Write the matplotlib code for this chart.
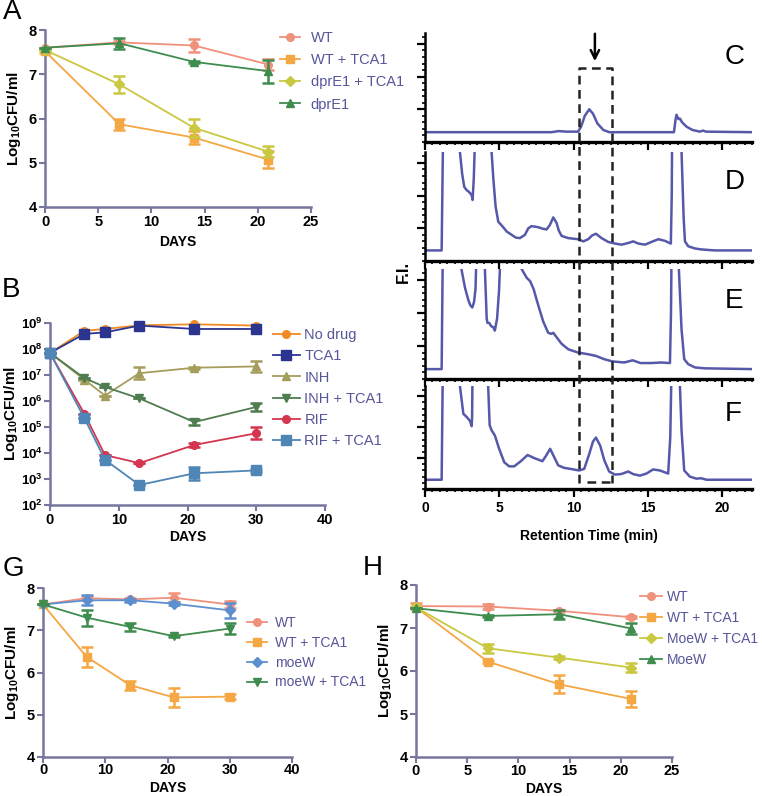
import numpy as np
import matplotlib.pyplot as plt
from matplotlib.ticker import FixedLocator, MultipleLocator, FuncFormatter

plt.rcParams['font.family'] = ['Liberation Sans', 'DejaVu Sans']
plt.rcParams['font.weight'] = 'bold'
plt.rcParams['axes.labelweight'] = 'bold'
plt.rcParams['mathtext.fontset'] = 'custom'
plt.rcParams['mathtext.rm'] = 'Liberation Sans'
plt.rcParams['mathtext.bf'] = 'Liberation Sans:bold'

# ---------------- data ----------------
# Panel A (log10 CFU/ml)
days_a = [0, 7, 14, 21]
a_labels = ["WT", "WT + TCA1", "dprE1 + TCA1", "dprE1"]
a_wt = [7.60, 7.72, 7.65, 7.22]
a_wt_err = [0.0, 0.04, 0.15, 0.12]
a_wt_tca = [7.52, 5.87, 5.57, 5.07]
a_wt_tca_err = [0.04, 0.12, 0.15, 0.19]
a_dpr_tca = [7.55, 6.77, 5.79, 5.25]
a_dpr_tca_err = [0.0, 0.19, 0.20, 0.12]
a_dpr = [7.60, 7.70, 7.28, 7.07]
a_dpr_err = [0.0, 0.13, 0.03, 0.26]

# Panel B (log10 CFU/ml)
days_b = [0, 5, 8, 13, 21, 30]
b_labels = ["No drug", "TCA1", "INH", "INH + TCA1", "RIF", "RIF + TCA1"]
b_nodrug = [7.85, 8.70, 8.77, 8.91, 8.95, 8.90]
b_tca = [7.85, 8.58, 8.64, 8.90, 8.77, 8.77]
b_inh = [7.85, 6.82, 6.21, 7.07, 7.28, 7.33]
b_inh_err = [0, 0, 0, 0.24, 0.03, 0.20]
b_inh_tca = [7.85, 6.88, 6.54, 6.10, 5.19, 5.77]
b_inh_tca_err = [0, 0, 0, 0, 0.10, 0.15]
b_rif = [7.85, 5.51, 3.92, 3.61, 4.31, 4.76]
b_rif_err = [0, 0, 0, 0, 0.09, 0.24]
b_rif_tca = [7.85, 5.34, 3.74, 2.77, 3.22, 3.33]
b_rif_tca_err = [0, 0, 0, 0, 0.24, 0.05]

# Panel G
days_g = [0, 7, 14, 21, 30]
g_labels = ["WT", "WT + TCA1", "moeW", "moeW + TCA1"]
g_wt = [7.61, 7.76, 7.73, 7.77, 7.61]
g_wt_err = [0, 0.05, 0.03, 0.10, 0.08]
g_wt_tca = [7.61, 6.37, 5.70, 5.41, 5.43]
g_wt_tca_err = [0, 0.23, 0.11, 0.22, 0.06]
g_moew = [7.61, 7.71, 7.71, 7.63, 7.47]
g_moew_err = [0, 0.12, 0.03, 0.03, 0.18]
g_moew_tca = [7.61, 7.30, 7.08, 6.86, 7.04]
g_moew_tca_err = [0, 0.19, 0.10, 0.03, 0.12]

# Panel H
days_h = [0, 7, 14, 21]
h_labels = ["WT", "WT + TCA1", "MoeW + TCA1", "MoeW"]
h_wt = [7.51, 7.50, 7.40, 7.25]
h_wt_err = [0.06, 0.05, 0.03, 0.02]
h_wt_tca = [7.48, 6.22, 5.69, 5.35]
h_wt_tca_err = [0, 0.04, 0.21, 0.19]
h_moew_tca = [7.48, 6.53, 6.31, 6.08]
h_moew_tca_err = [0, 0.10, 0.03, 0.11]
h_moew = [7.46, 7.28, 7.32, 6.99]
h_moew_err = [0, 0.03, 0.11, 0.12]

# Chromatograms C-F: retention time (min) and fluorescence (% of panel height)
c_t = [0, 8.5, 9.0, 9.5, 10.3, 10.5, 10.75, 11.05, 11.3, 11.6, 12.0, 12.4,
       16.75, 16.85, 16.92, 17.05, 17.15, 17.3, 17.6, 18.0, 18.5, 18.7, 18.9, 22]
c_v = [9, 9, 10, 9.5, 9.5, 14, 24, 30, 26, 17, 11, 9,
       9, 20, 25, 21, 21.5, 18, 14, 11, 9.5, 10.5, 9.5, 9]

d_t = [0, 1.12, 1.22, 2.3, 2.35, 2.5, 2.64, 2.8, 2.91, 3.05, 3.15, 3.2, 3.28, 3.36, 3.4,
       4.4, 4.48, 4.6, 4.75, 4.93, 5.2, 5.5, 5.83, 6.1, 6.39, 6.72, 6.95, 7.17, 7.62,
       7.95, 8.18, 8.4, 8.63, 8.85, 9.0, 9.19, 9.64, 10.3, 10.65, 10.98, 11.25, 11.5,
       11.88, 12.33, 12.78, 13.23, 13.67, 14.01, 14.35, 14.8, 15.24, 15.7, 16.14, 16.54,
       16.6, 16.63, 17.2, 17.26, 17.4, 17.49, 17.71, 18.16, 18.6, 19.5, 22]
d_v = [9.7, 9.7, 120, 120, 100, 80, 68, 65, 64, 62, 60, 56, 75, 110, 120,
       120, 100, 75, 50, 36, 32, 27, 24, 21.5, 21, 24, 30, 32, 31,
       29.5, 29, 33, 40, 35, 28, 23, 21, 20, 18, 20, 23.5, 25,
       21, 17.5, 16, 15, 16.5, 18, 16, 15, 17.5, 20, 18.5, 16,
       60, 120, 120, 100, 40, 18, 13.5, 11.5, 10.6, 9.7, 9.7]

e_t = [0, 1.12, 1.2, 2.4, 2.45, 2.69, 2.91, 3.05, 3.18, 3.3, 3.4, 3.47,
       4.0, 4.03, 4.15, 4.2, 4.32, 4.45, 4.6, 4.7, 4.85, 4.98, 5.1,
       6.45, 6.5, 6.84, 7.07, 7.3, 7.62, 7.96, 8.29, 8.5, 8.63, 8.85, 9.19, 9.64,
       10.3, 10.98, 11.5, 12.06, 12.6, 13.4, 13.97, 14.5, 15.2, 15.9, 16.48,
       16.55, 16.59, 17.05, 17.08, 17.26, 17.44, 17.71, 18.16, 18.83, 22]
e_v = [9, 9, 120, 120, 100, 83, 72, 67, 65, 70, 82, 120,
       120, 100, 55, 51, 51, 48, 47, 44, 55, 80, 120,
       120, 100, 92, 89, 82, 67, 52, 42, 41, 42, 38, 32, 27,
       24, 22.5, 21, 18, 16, 15, 17, 14.5, 14.5, 15, 14.5,
       60, 120, 120, 100, 45, 18, 13.5, 10.5, 9.7, 9]

f_t = [0, 1.12, 1.2, 2.3, 2.35, 2.58, 2.8, 3.03, 3.14, 3.17, 3.2,
       4.2, 4.25, 4.35, 4.48, 4.7, 4.99, 5.33, 5.66, 6.0, 6.45, 6.9, 7.35, 7.9,
       8.13, 8.42, 8.69, 8.96, 9.36, 9.8, 10.37, 10.71, 11.05, 11.3, 11.5, 11.79,
       12.06, 12.39, 12.78, 13.2, 13.67, 14.0, 14.46, 14.9, 15.35, 15.8, 16.36,
       16.5, 16.59, 17.1, 17.15, 17.26, 17.44, 17.82, 18.27, 18.56, 18.94, 22]
f_v = [9, 9, 120, 120, 100, 73, 70, 66, 61, 70, 120,
       120, 100, 62, 57, 52, 39, 26, 22, 22, 27, 33, 30, 27,
       32, 39, 31, 23, 20.5, 19.5, 18, 19.5, 34, 46, 50, 42,
       28, 17, 14, 14.5, 17, 14.5, 13, 15, 19, 18, 15,
       50, 120, 120, 100, 57, 18, 12, 10, 10.5, 9, 9]

# ---------------- style ----------------
W, H = 762, 796
AXC = '#77769f'
LEGC = '#55559a'
TRACE = '#4446a0'
SALMON = '#ef917b'
ORANGE = '#f4a742'
YGREEN = '#c9c840'
GREEN = '#3f8c4f'

fig = plt.figure(figsize=(W / 100, H / 100), dpi=100)


def add_px(l, t, r, b):
    return fig.add_axes([l / W, 1 - b / H, (r - l) / W, (b - t) / H])


def bold_ticks(ax):
    plt.setp(ax.get_xticklabels() + ax.get_yticklabels(), fontweight='bold')


def style_cfu(ax, xpad=2, ypad=4, xlpad=4):
    for s in ['top', 'right']:
        ax.spines[s].set_visible(False)
    for s in ['left', 'bottom']:
        ax.spines[s].set_color(AXC)
        ax.spines[s].set_linewidth(1.8)
    ax.tick_params(color=AXC, width=1.5, length=4, labelsize=10.5, pad=2)
    ax.tick_params(axis='x', pad=xpad)
    ax.set_xlabel('DAYS', fontsize=10, labelpad=xlpad, fontweight='bold')
    ax.set_ylabel(r'Log$_{\mathbf{10}}$CFU/ml', fontsize=11, labelpad=ypad,
                  fontweight='bold')
    bold_ticks(ax)


def series(ax, x, y, err, color, marker, label, ms=5.5):
    ax.plot(x, y, color=color, marker=marker, ms=ms, lw=1.3, label=label,
            clip_on=False, zorder=3)
    ax.errorbar(x, y, yerr=err, fmt='none', ecolor=color, elinewidth=1.8,
                capsize=4, capthick=1.8, clip_on=False, zorder=3)


def legend(ax, x, y, fs, hl, pad, sp):
    ax.legend(loc='upper left', bbox_to_anchor=(x / W, 1 - y / H),
              bbox_transform=fig.transFigure, frameon=False, borderpad=0,
              borderaxespad=0, handlelength=hl, handletextpad=pad,
              labelspacing=sp, labelcolor=LEGC,
              prop={'size': fs, 'weight': 'normal'})


# ---------------- A ----------------
ax = add_px(45, 30, 311, 207)
series(ax, days_a, a_wt, a_wt_err, SALMON, 'o', a_labels[0])
series(ax, days_a, a_wt_tca, a_wt_tca_err, ORANGE, 's', a_labels[1])
series(ax, days_a, a_dpr_tca, a_dpr_tca_err, YGREEN, 'D', a_labels[2], ms=5)
series(ax, days_a, a_dpr, a_dpr_err, GREEN, '^', a_labels[3])
ax.set_xlim(0, 25)
ax.set_ylim(4, 8)
ax.set_xticks([0, 5, 10, 15, 20, 25])
ax.set_yticks([4, 5, 6, 7, 8])
style_cfu(ax)
legend(ax, 280, 31, 10.5, 1.4, 0.7, 0.56)

# ---------------- B ----------------
ax = add_px(50, 323, 325, 505)
b_sets = [(b_nodrug, None, '#f08a24', 'o'), (b_tca, None, '#2b3590', 's'),
          (b_inh, b_inh_err, '#a59d5c', '^'), (b_inh_tca, b_inh_tca_err, '#4f7d4f', 'v'),
          (b_rif, b_rif_err, '#d4364f', 'o'), (b_rif_tca, b_rif_tca_err, '#4f86b5', 's')]
for (vals, err, col, mk), lab in zip(b_sets, b_labels):
    vals = np.array(vals)
    yv = 10 ** vals
    if err is None:
        e = None
    else:
        err = np.array(err)
        e = [yv - 10 ** (vals - err), 10 ** (vals + err) - yv]
    ms = 6.5 if mk == 's' else 5.5
    series(ax, days_b, yv, e, col, mk, lab, ms=ms)
ax.set_yscale('log')
ax.set_xlim(0, 40)
ax.set_ylim(1e2, 1e9)
ax.set_xticks([0, 10, 20, 30, 40])
ax.yaxis.set_major_locator(FixedLocator([10.0 ** k for k in range(2, 10)]))
ax.yaxis.set_minor_locator(FixedLocator([]))
ax.yaxis.set_major_formatter(FuncFormatter(
    lambda v, p: r'$\mathbf{10^{%d}}$' % round(np.log10(v))))
style_cfu(ax, ypad=1, xlpad=2)
ax.tick_params(axis='y', labelsize=9.5, pad=1)
legend(ax, 273, 328, 10.5, 1.85, 0.3, 0.5)

# ---------------- G ----------------
ax = add_px(43, 588, 292, 757)
series(ax, days_g, g_wt, g_wt_err, SALMON, 'o', g_labels[0])
series(ax, days_g, g_wt_tca, g_wt_tca_err, ORANGE, 's', g_labels[1])
series(ax, days_g, g_moew, g_moew_err, '#5d8fd0', 'D', g_labels[2], ms=5)
series(ax, days_g, g_moew_tca, g_moew_tca_err, GREEN, 'v', g_labels[3])
ax.set_xlim(0, 40)
ax.set_ylim(4, 8)
ax.set_xticks([0, 10, 20, 30, 40])
ax.set_yticks([4, 5, 6, 7, 8])
style_cfu(ax, xpad=0, xlpad=3)
legend(ax, 247, 616, 10, 1.45, 0.55, 0.42)

# ---------------- H ----------------
ax = add_px(416, 585, 672, 757)
series(ax, days_h, h_wt, h_wt_err, SALMON, 'o', h_labels[0])
series(ax, days_h, h_wt_tca, h_wt_tca_err, ORANGE, 's', h_labels[1])
series(ax, days_h, h_moew_tca, h_moew_tca_err, YGREEN, 'D', h_labels[2], ms=5)
series(ax, days_h, h_moew, h_moew_err, GREEN, '^', h_labels[3])
ax.set_xlim(0, 25)
ax.set_ylim(4, 8)
ax.set_xticks([0, 5, 10, 15, 20, 25])
ax.set_yticks([4, 5, 6, 7, 8])
style_cfu(ax, xpad=1, xlpad=3)
legend(ax, 640, 590, 10, 1.6, 0.35, 0.5)

# ---------------- C-F chromatograms ----------------
CH_L, CH_R = 425, 752
chrom = [(c_t, c_v, 33, 142), (d_t, d_v, 152, 261),
         (e_t, e_v, 269, 379), (f_t, f_v, 386, 489)]
for i, (t, v, top, bot) in enumerate(chrom):
    ax = add_px(CH_L, top, CH_R, bot)
    ax.plot(t, v, color=TRACE, lw=1.8, alpha=0.9, solid_joinstyle='round')
    ax.set_xlim(0, 22)
    ax.set_ylim(0, 100)
    ax.patch.set_alpha(0)
    for s in ['top', 'right']:
        ax.spines[s].set_visible(False)
    ax.spines['left'].set_linewidth(1.8)
    ax.spines['bottom'].set_linewidth(2.4)
    ax.set_yticks([30, 60, 90])
    ax.yaxis.set_minor_locator(MultipleLocator(6))
    ax.xaxis.set_major_locator(MultipleLocator(5))
    ax.xaxis.set_minor_locator(MultipleLocator(0.5))
    ax.tick_params(which='major', length=6, width=1.6)
    ax.tick_params(which='minor', length=2.5, width=1.2)
    ax.set_yticklabels([])
    if i < 3:
        ax.set_xticklabels([])
    else:
        ax.tick_params(axis='x', labelsize=10, pad=3)
        ax.set_xlabel('Retention Time (min)', fontsize=10, labelpad=10,
                      fontweight='bold')
        bold_ticks(ax)

# dashed window and arrow over C-F (figure pixel rows)
WIN_T0, WIN_T1, WIN_TOP, WIN_BOT = 10.36, 12.6, 68, 483
BAR_T0, BAR_Y = 10.9, 482
ARROW_T, ARROW_Y0, ARROW_Y1 = 11.43, 31, 64
ov = add_px(CH_L, 0, CH_R, 496)
ov.set_xlim(0, 22)
ov.set_ylim(496, 0)
ov.axis('off')
dash = dict(color='#222222', lw=1.8, ls=(0, (3.5, 2.2)))
ov.plot([WIN_T0, WIN_T0, WIN_T1, WIN_T1], [WIN_BOT, WIN_TOP, WIN_TOP, WIN_BOT], **dash)
ov.plot([BAR_T0, WIN_T1], [BAR_Y, BAR_Y], **dash)
ov.annotate('', xy=(ARROW_T, ARROW_Y1), xytext=(ARROW_T, ARROW_Y0),
            arrowprops=dict(arrowstyle='->,head_length=0.6,head_width=0.3',
                            lw=1.8, color='black'))

fig.text(403 / W, 1 - 272 / H, 'F.I.', rotation=90, fontsize=12,
         ha='center', va='center', fontweight='bold')

# panel letters
for lab, x, y in [('A', 3, 12), ('B', 2, 290), ('G', 3, 569), ('H', 363, 568),
                  ('C', 725, 57), ('D', 725, 182), ('E', 725, 301), ('F', 725, 414)]:
    fig.text(x / W, 1 - y / H, lab, fontsize=20, fontweight='normal',
             ha='left', va='center')

fig.savefig('out.png', dpi=100)
